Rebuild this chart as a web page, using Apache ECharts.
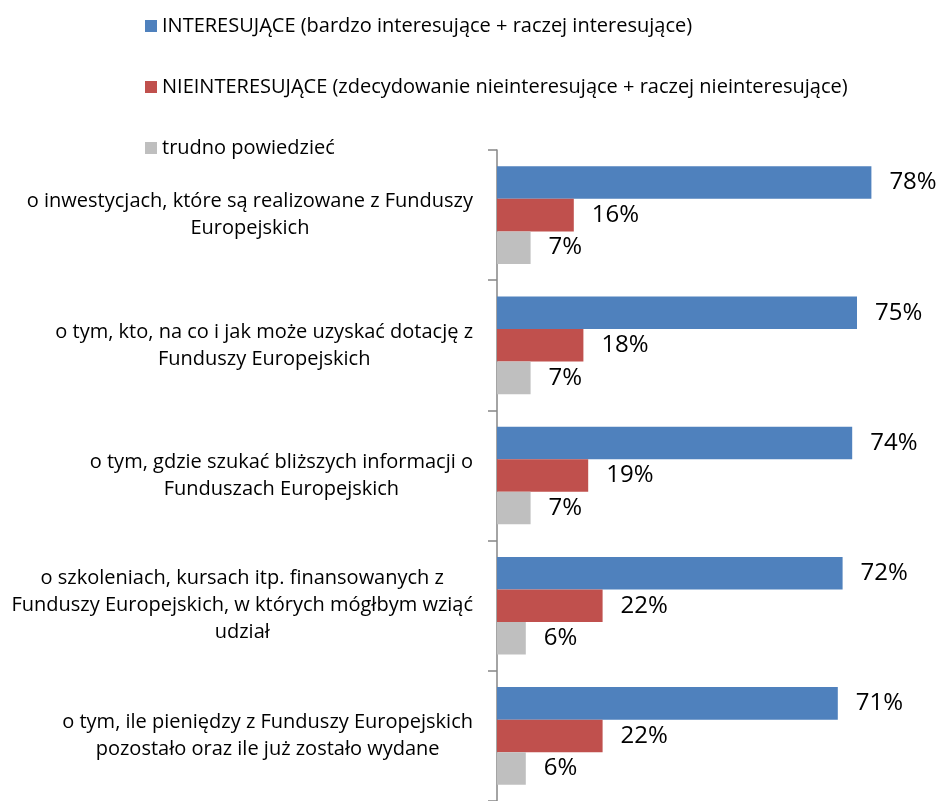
<!DOCTYPE html>
<html>
<head>
<meta charset="utf-8">
<script src="https://cdn.jsdelivr.net/npm/echarts@6/dist/echarts.min.js"></script>
<style>
    html, body { margin: 0; padding: 0; background: #ffffff; }
    #chart { width: 941px; height: 801px; }
</style>
</head>
<body>
<div id="chart"></div>
<script>
let categories = [
    "o inwestycjach, które są realizowane z Funduszy\nEuropejskich",
    "o tym, kto, na co i jak może uzyskać dotację z\nFunduszy Europejskich",
    "o tym, gdzie szukać bliższych informacji o\nFunduszach Europejskich",
    "o szkoleniach, kursach itp. finansowanych z\nFunduszy Europejskich, w których mógłbym wziąć\nudział",
    "o tym, ile pieniędzy z Funduszy Europejskich\npozostało oraz ile już zostało wydane"
];

let seriesNames = [
    "INTERESUJĄCE (bardzo interesujące + raczej interesujące)",
    "NIEINTERESUJĄCE (zdecydowanie nieinteresujące + raczej nieinteresujące)",
    "trudno powiedzieć"
];

let interesting = [78, 75, 74, 72, 71];
let notInteresting = [16, 18, 19, 22, 22];
let hardToSay = [7, 7, 7, 6, 6];

let colors = ['#4F81BD', '#C0504D', '#BFBFBF'];
let fontName = '"Open Sans", "Noto Sans", sans-serif';

var dom = document.getElementById('chart');
var myChart = echarts.init(dom, null, { renderer: 'canvas' });

function barSeries(name, data, color) {
    return {
        name: name,
        type: 'bar',
        data: data,
        barGap: '0%',
        barCategoryGap: '25%',
        itemStyle: { color: color },
        label: {
            show: true,
            position: 'right',
            distance: 18,
            formatter: '{c}%',
            color: '#000',
            fontFamily: fontName,
            fontSize: 24
        }
    };
}

var option = {
    backgroundColor: '#ffffff',
    animation: false,
    legend: {
        orient: 'vertical',
        left: 140,
        top: 11,
        itemWidth: 12,
        itemHeight: 12,
        itemGap: 41,
        icon: 'rect',
        data: seriesNames,
        textStyle: {
            fontFamily: fontName,
            fontSize: 20,
            lineHeight: 20,
            color: '#000'
        }
    },
    grid: {
        left: 497,
        right: 12,
        top: 150,
        bottom: -6,
        containLabel: false
    },
    xAxis: {
        type: 'value',
        min: 0,
        max: 90,
        show: false
    },
    yAxis: {
        type: 'category',
        inverse: true,
        data: categories,
        axisLine: { lineStyle: { color: '#868686', width: 1.5 } },
        axisTick: { show: true, length: 9, lineStyle: { color: '#868686', width: 1.5 } },
        axisLabel: {
            margin: 24,
            align: 'right',
            formatter: function (value) {
                return value.split('\n').map(function (l) { return '{c|' + l + '}'; }).join('\n');
            },
            rich: {
                c: {
                    align: 'center',
                    fontFamily: fontName,
                    fontSize: 20,
                    lineHeight: 27,
                    color: '#000'
                }
            }
        }
    },
    series: [
        barSeries(seriesNames[0], interesting, colors[0]),
        barSeries(seriesNames[1], notInteresting, colors[1]),
        barSeries(seriesNames[2], hardToSay, colors[2])
    ]
};

myChart.setOption(option);
window.addEventListener('resize', myChart.resize);
</script>
</body>
</html>
